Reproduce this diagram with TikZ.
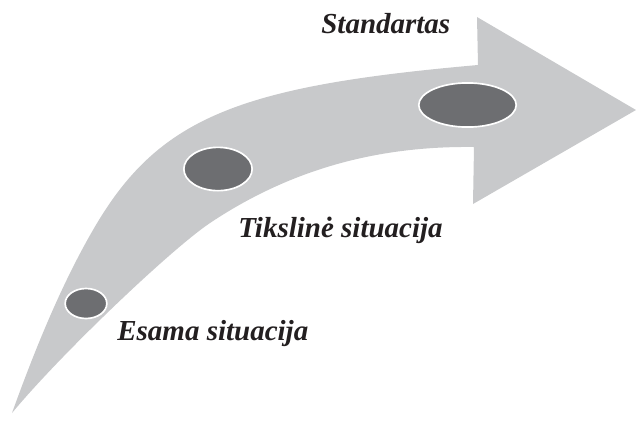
\documentclass[tikz,border=0pt]{standalone}
\usepackage{fontspec}
\setmainfont{Liberation Serif}
\usepackage{tikz}
\usetikzlibrary{shapes.geometric}
\definecolor{arrowgrey}{HTML}{C8C9CB}
\definecolor{dotgrey}{HTML}{6D6E71}
\definecolor{sitink}{HTML}{231F20}

\begin{document}
\begin{tikzpicture}[x=0.6pt, y=-0.6pt, line cap=round,
  stage/.style={ellipse, fill=dotgrey, draw=white, line width=1pt, inner sep=0pt},
  sitlabel/.style={sitink, anchor=base west, inner sep=0pt,
    font=\fontsize{17.4}{20}\selectfont\bfseries\itshape}]
  \useasboundingbox (0,0) rectangle (636,422);
  \fill[arrowgrey] (12,413) .. controls (34,352) and (60.5,286) .. (93,230)
    .. controls (158,117) and (239,86) .. (478,65) -- (477,17) -- (636,110)
    -- (473,204) -- (474,147) .. controls (390,146) and (300,163) .. (210,223)
    .. controls (170,250) and (60,355) .. (12,413) -- cycle;
  \node[stage, minimum width=25pt, minimum height=18pt] (esamaDot) at (86,303.5) {};
  \node[stage, minimum width=41pt, minimum height=26pt] (tikslasDot) at (218,169) {};
  \node[stage, minimum width=58.5pt, minimum height=26.5pt] (standartDot) at (467.5,105) {};
  \node[sitlabel] (standartas) at (321,33) {Standartas};
  \node[sitlabel] (tikslas) at (238,237) {Tikslinė situacija};
  \node[sitlabel] (esama) at (117,340) {Esama situacija};
\end{tikzpicture}
\end{document}
